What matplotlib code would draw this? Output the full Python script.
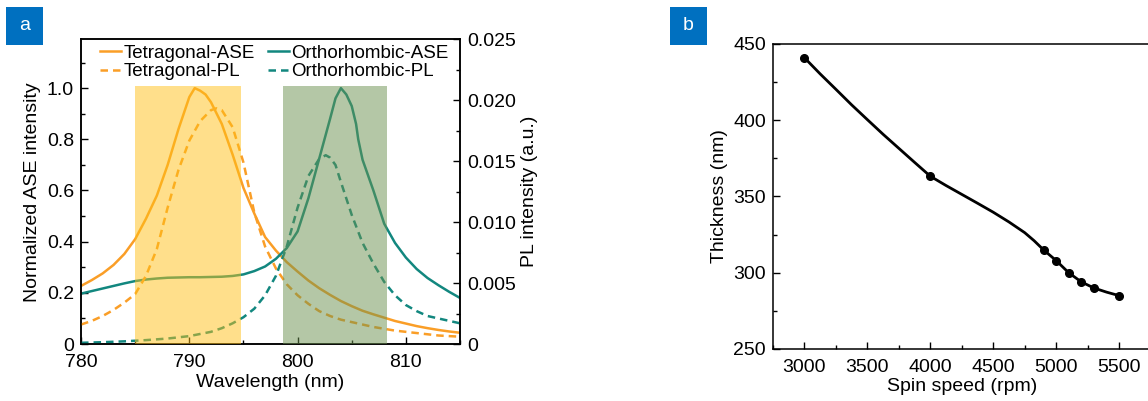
import matplotlib
matplotlib.use("Agg")
import matplotlib.pyplot as plt
from matplotlib.lines import Line2D
from matplotlib.patches import Rectangle
from matplotlib.ticker import MultipleLocator, FixedLocator

plt.rcParams['font.family'] = ['Liberation Sans', 'DejaVu Sans']

# ---- panel a data ----
wl_t_ase = [780, 781, 782, 783, 784, 785, 786, 787, 788, 789, 790, 790.5, 791, 791.5, 792, 793, 794,
            795, 796, 797, 798, 799, 800, 801, 802, 803, 804, 805, 806, 807, 808, 809, 810, 811,
            812, 813, 814, 815]
t_ase = [0.227, 0.25, 0.276, 0.309, 0.352, 0.41, 0.49, 0.58, 0.70, 0.84, 0.965, 1.0, 0.99, 0.975,
         0.945, 0.86, 0.74, 0.61, 0.51, 0.418, 0.365, 0.32, 0.283, 0.248, 0.218, 0.192, 0.168,
         0.148, 0.13, 0.116, 0.103, 0.09, 0.08, 0.07, 0.062, 0.055, 0.049, 0.044]

wl_o_ase = [780, 781, 782, 783, 784, 785, 786, 787, 788, 789, 790, 791, 792, 793, 794, 795, 796,
            797, 798, 799, 800, 801, 802, 803, 803.5, 804, 804.5, 805, 805.4, 805.6, 806, 807,
            808, 809, 810, 811, 812, 813, 814, 815]
o_ase = [0.197, 0.207, 0.217, 0.227, 0.237, 0.246, 0.252, 0.256, 0.259, 0.260, 0.261, 0.261,
         0.262, 0.263, 0.266, 0.272, 0.285, 0.303, 0.333, 0.375, 0.44, 0.57, 0.725, 0.88, 0.96,
         1.0, 0.975, 0.93, 0.86, 0.80, 0.72, 0.60, 0.47, 0.395, 0.338, 0.293, 0.258, 0.23,
         0.204, 0.18]

wl_t_pl = [780, 781, 782, 783, 784, 785, 786, 787, 788, 789, 790, 791, 792, 792.5, 793, 794, 795,
           796, 797, 798, 799, 800, 801, 802, 803, 804, 805, 806, 807, 808, 809, 810, 811, 812,
           813, 814, 815]
t_pl = [0.0016, 0.0019, 0.0023, 0.0028, 0.0034, 0.0041, 0.0056, 0.0078, 0.0112, 0.0143, 0.0167,
        0.0183, 0.0192, 0.01935, 0.0192, 0.0178, 0.0149, 0.0108, 0.0080, 0.0062, 0.0049, 0.0040,
        0.0033, 0.0027, 0.0023, 0.0020, 0.0018, 0.0016, 0.0014, 0.00125, 0.0011, 0.0010, 0.0009,
        0.0008, 0.0007, 0.00065, 0.0006]

wl_o_pl = [780, 782, 784, 786, 788, 790, 792, 793, 794, 795, 796, 797, 798, 799, 800, 801, 802,
           802.6, 803, 803.5, 804, 805, 806, 807, 808, 809, 810, 811, 812, 813, 814, 815]
o_pl = [0.0001, 0.00015, 0.00022, 0.00032, 0.00045, 0.00065, 0.0010, 0.0013, 0.0017, 0.0022,
        0.0029, 0.0040, 0.0056, 0.0080, 0.0112, 0.0138, 0.0152, 0.0155, 0.0153, 0.0147, 0.0133,
        0.0106, 0.0083, 0.0066, 0.0051, 0.0040, 0.0032, 0.0027, 0.0023, 0.0021, 0.0019, 0.0017]

band_t = (785.0, 794.8)
band_o = (798.65, 808.3)

# ---- panel b data ----
speed_pts = [3000, 4000, 4900, 5000, 5100, 5200, 5300, 5500]
thick_pts = [441, 363.3, 315, 308, 300, 294, 290, 285]
speed_fit = [3000, 3125, 3250, 3375, 3500, 3625, 3750, 3875, 4000, 4125, 4250, 4375, 4500,
             4625, 4750, 4825, 4900, 5000, 5100, 5200, 5300, 5400, 5500]
thick_fit = [441, 430.4, 420.3, 410.1, 400.4, 390.8, 381.6, 372.4, 363.3, 357.2, 351.4, 345.6,
             339.7, 333.3, 326.3, 321.0, 315, 308, 300, 294, 290, 287.3, 285]

orange = '#FA9E27'
teal = '#12877F'
fs = 14

fig = plt.figure(figsize=(11.48, 4.01), dpi=100)

# ---------------- panel a ----------------
ax = fig.add_axes([0.0706, 0.1421, 0.3301, 0.7594])
ax2 = ax.twinx()

ax.plot(wl_t_ase, t_ase, color=orange, lw=1.8, zorder=2)
ax.plot(wl_o_ase, o_ase, color=teal, lw=1.8, zorder=2)
ax2.plot(wl_t_pl, t_pl, color=orange, lw=1.8, dashes=(3, 2), zorder=2)
ax2.plot(wl_o_pl, o_pl, color=teal, lw=1.8, dashes=(3, 2), zorder=2)

ytop = 1.19
ax2.axvspan(band_t[0], band_t[1], ymin=0, ymax=1.009 / ytop, color='#FFC119', alpha=0.5,
            lw=0, zorder=3)
ax2.axvspan(band_o[0], band_o[1], ymin=0, ymax=1.009 / ytop, color='#6B914F', alpha=0.5,
            lw=0, zorder=3)

ax.set_xlim(780, 815)
ax.set_ylim(0, ytop)
ax2.set_ylim(0, 0.025)

ax.xaxis.set_major_locator(FixedLocator([780, 790, 800, 810]))
ax.xaxis.set_minor_locator(MultipleLocator(5))
ax.yaxis.set_major_locator(FixedLocator([0, 0.2, 0.4, 0.6, 0.8, 1.0]))
ax.set_yticklabels(['0', '0.2', '0.4', '0.6', '0.8', '1.0'])
ax.yaxis.set_minor_locator(MultipleLocator(0.1))
ax2.yaxis.set_major_locator(FixedLocator([0, 0.005, 0.010, 0.015, 0.020, 0.025]))
ax2.set_yticklabels(['0', '0.005', '0.010', '0.015', '0.020', '0.025'])
ax2.yaxis.set_minor_locator(MultipleLocator(0.0025))

for a in (ax, ax2):
    a.tick_params(which='both', direction='in', labelsize=fs, width=1.0)
    a.tick_params(which='major', length=5)
    a.tick_params(which='minor', length=3)
    for s in a.spines.values():
        s.set_linewidth(1.1)
ax.tick_params(axis='x', pad=7)
ax.tick_params(axis='y', pad=5)
ax2.tick_params(axis='y', pad=5)

ax.set_xlabel('Wavelength (nm)', fontsize=fs, labelpad=2)
ax.set_ylabel('Normalized ASE intensity', fontsize=fs, labelpad=4)
ax2.set_ylabel('PL intensity (a.u.)', fontsize=fs, labelpad=4)

handles = [Line2D([], [], color=orange, lw=1.8),
           Line2D([], [], color=orange, lw=1.8, dashes=(3, 2)),
           Line2D([], [], color=teal, lw=1.8),
           Line2D([], [], color=teal, lw=1.8, dashes=(3, 2))]
labels = ['Tetragonal-ASE', 'Tetragonal-PL', 'Orthorhombic-ASE', 'Orthorhombic-PL']
ax2.legend(handles, labels, ncol=2, frameon=False, fontsize=13.5, loc='upper left',
           bbox_to_anchor=(0.045, 0.99), borderaxespad=0, borderpad=0.1,
           handlelength=1.1, handletextpad=0.15, columnspacing=0.7, labelspacing=0.08)

# ---------------- panel b ----------------
bx = fig.add_axes([0.6733, 0.1297, 0.3289, 0.7606])
bx.plot(speed_fit, thick_fit, color='black', lw=2.0)
bx.plot(speed_pts, thick_pts, 'o', color='black', ms=5.5)
bx.set_xlim(2750, 5750)
bx.set_ylim(250, 450)
bx.xaxis.set_major_locator(MultipleLocator(500))
bx.xaxis.set_minor_locator(MultipleLocator(250))
bx.yaxis.set_major_locator(MultipleLocator(50))
bx.yaxis.set_minor_locator(MultipleLocator(25))
bx.tick_params(which='both', direction='in', labelsize=fs, width=1.0)
bx.tick_params(which='major', length=5)
bx.tick_params(which='minor', length=3)
bx.tick_params(axis='x', pad=7)
bx.tick_params(axis='y', pad=5)
for s in bx.spines.values():
    s.set_linewidth(1.1)
bx.set_xlabel('Spin speed (rpm)', fontsize=fs, labelpad=2)
bx.set_ylabel('Thickness (nm)', fontsize=fs, labelpad=4)

# panel tags
W, H = 1148, 401
for x0, tag in [(6, 'a'), (670, 'b')]:
    fig.patches.append(Rectangle((x0 / W, (H - 45) / H), 37 / W, 38 / H,
                                 transform=fig.transFigure, color='#0070C0', lw=0))
    fig.text((x0 + 18.5) / W, (H - 26) / H, tag, color='white', fontsize=14,
             ha='center', va='center')

fig.savefig('out.png', dpi=100)
